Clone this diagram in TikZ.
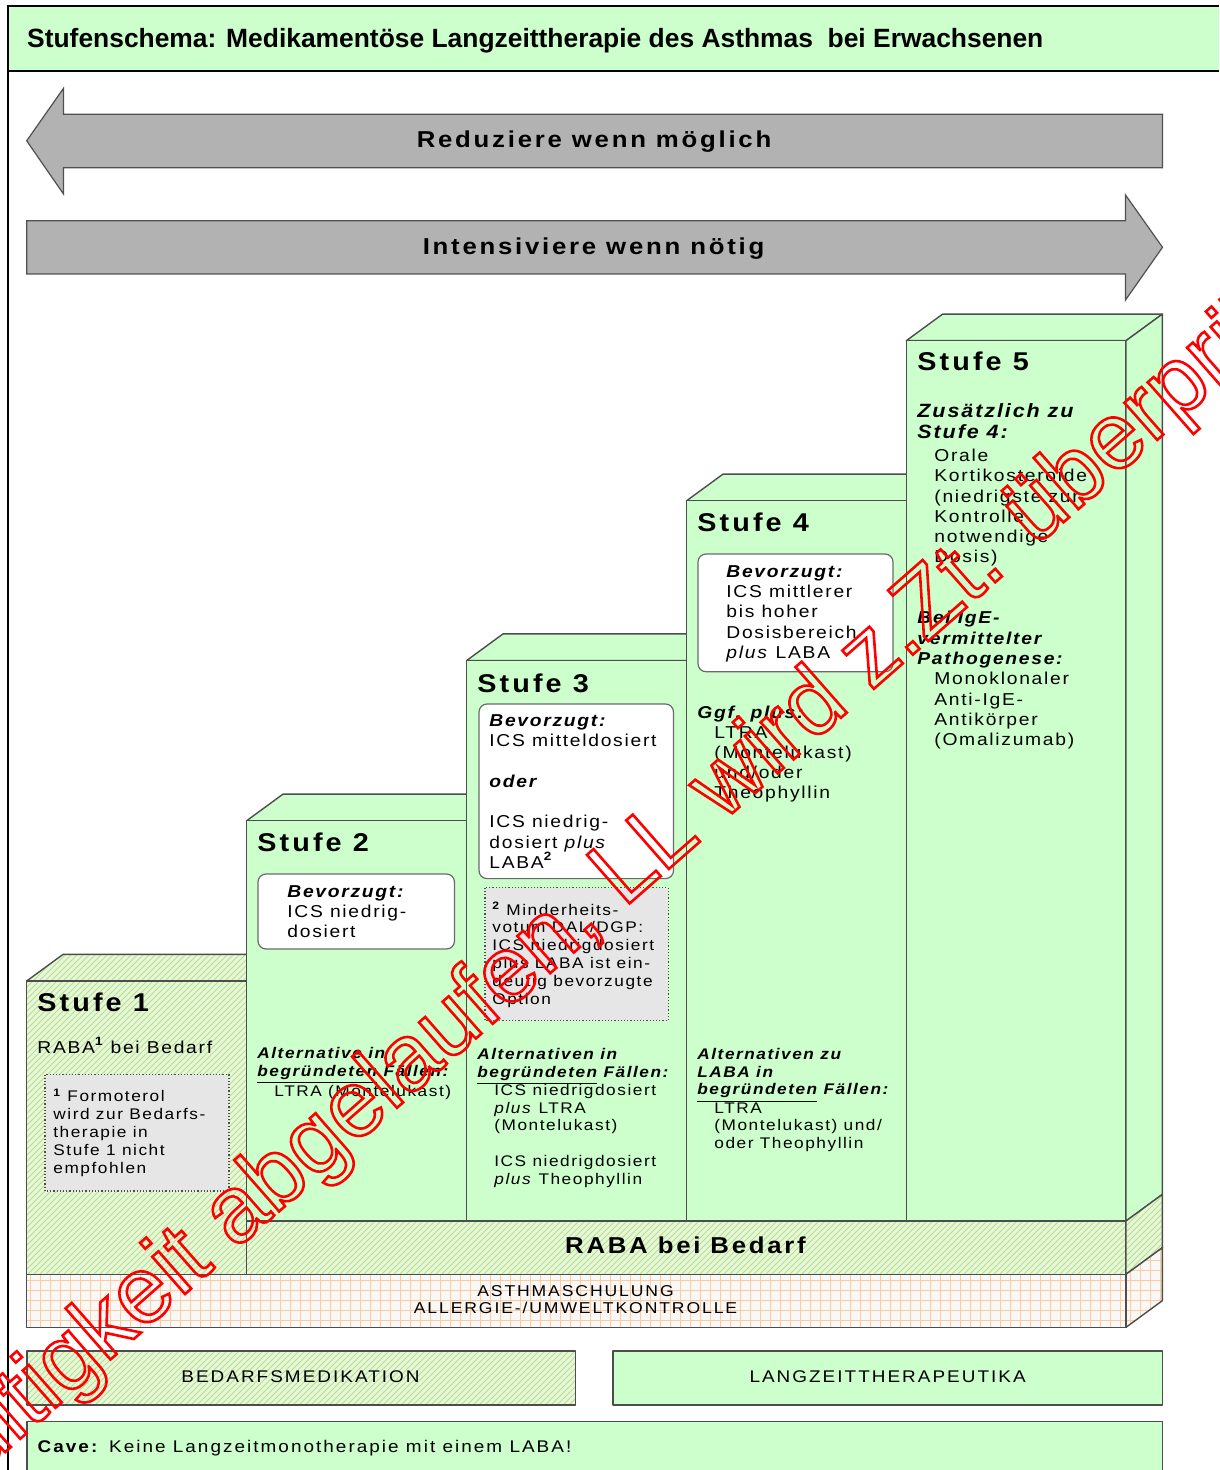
\documentclass[tikz,border=0pt]{standalone}
\usepackage{fontspec}
\setmainfont{Liberation Sans}
\newfontfamily\fsp{Liberation Sans}[FakeStretch=1.12, LetterSpace=10]
\newfontfamily\fhd{Liberation Sans}[FakeStretch=1.12, LetterSpace=12]
\usetikzlibrary{patterns}
\definecolor{lgreen}{HTML}{CCFFCC}
\definecolor{edge}{HTML}{4D4D4D}
\definecolor{boxedge}{HTML}{6A6A6A}
\definecolor{arrowgray}{HTML}{B2B2B2}
\definecolor{arrowedge}{HTML}{505050}
\definecolor{notegray}{HTML}{E6E6E6}
\definecolor{hatchbg}{HTML}{E6F8D6}
\definecolor{hatchfg}{HTML}{B9DD96}
\definecolor{gridorange}{HTML}{FFCC99}
\definecolor{gridbg}{HTML}{F8F8F8}
\definecolor{wmred}{HTML}{FF0000}
\newcommand\fBody{\fsp\fontsize{8.6}{10.15}\selectfont}
\newcommand\fSmall{\fsp\fontsize{7.7}{8.9}\selectfont}
\newcommand\fStufe{\fhd\bfseries\fontsize{12.85}{15}\selectfont}
\newcommand\fArrow{\fhd\bfseries\fontsize{11.5}{14}\selectfont}
\newcommand\fTitle{\bfseries\fontsize{13.2}{15}\selectfont}
\newcommand\fLegend{\fhd\fontsize{8.45}{10}\selectfont}
\newcommand\fBase{\fhd\fontsize{7.85}{8.75}\selectfont}
\newcommand\fZus{\fsp\bfseries\itshape\fontsize{9.6}{10.8}\selectfont}
\newcommand\bi[1]{{\bfseries\itshape #1}}
\newcommand\wmon{\special{pdf:literal direct 1 Tr 1.3 w}}
\newcommand\wmoff{\special{pdf:literal direct 0 Tr}}
\begin{document}
\begin{tikzpicture}[x=0.5pt,y=-0.5pt,
  txt/.style={inner sep=0pt, anchor=north west, align=left},
  one/.style={inner sep=0pt, anchor=base west},
  ctr/.style={inner sep=0pt, anchor=base},
  face/.style={draw=edge, line width=0.7pt, fill=lgreen, line join=round},
  hatchface/.style={draw=edge, line width=0.7pt, line join=round, preaction={fill=hatchbg}, pattern=north east lines, pattern color=hatchfg},
  prefbox/.style={draw=boxedge, fill=white, rounded corners=4pt, line width=0.6pt},
  notebox/.style={draw=edge, densely dotted, fill=notegray, line width=0.6pt},
  bigarrow/.style={draw=arrowedge, fill=arrowgray, line width=0.6pt, line join=miter},
  gridline/.style={draw=gridorange, line width=0.45pt},
]
\useasboundingbox (0,0) rectangle (1219,1470);
% frame and title band
\fill[lgreen] (7.5,6.5) rectangle (1219,70.7);
\draw[line width=1pt] (7.5,1470) -- (7.5,6.5) -- (1219,6.5);
\draw[line width=1pt] (7.5,70.7) -- (1219,70.7);
\node[one, font=\fTitle] (title) at (26.8,47.3) {Stufenschema: Medikamentöse Langzeittherapie des Asthmas\ \ bei Erwachsenen};
% arrows
\draw[bigarrow] (1162.5,114.3) -- (63.5,114.3) -- (63.5,88.3) -- (26.7,140.8) -- (63.5,194) -- (63.5,167.7) -- (1162.5,167.7) -- cycle;
\draw[bigarrow] (26.7,220.7) -- (1125.5,220.7) -- (1125.5,195) -- (1162.5,247.3) -- (1125.5,300) -- (1125.5,274) -- (26.7,274) -- cycle;
\node[ctr, font=\fArrow] (reduce) at (594,147.3) {Reduziere wenn möglich};
\node[ctr, font=\fArrow] (intens) at (593.5,255) {Intensiviere wenn nötig};
% steps
\draw[hatchface] (26.7,981) -- (63,954.4) -- (283,954.4) -- (246.7,981) -- cycle;
\draw[hatchface] (26.7,981) rectangle (246.7,1274.3);
\draw[face] (246.7,820.7) -- (283,794.1) -- (503,794.1) -- (466.7,820.7) -- cycle;
\draw[face] (246.7,820.7) rectangle (466.7,1221);
\draw[face] (466.7,660.5) -- (503,633.9) -- (723,633.9) -- (686.7,660.5) -- cycle;
\draw[face] (466.7,660.5) rectangle (686.7,1221);
\draw[face] (686.7,500.7) -- (723,474.1) -- (942.6,474.1) -- (906.3,500.7) -- cycle;
\draw[face] (686.7,500.7) rectangle (906.3,1221);
\draw[face] (906.3,340.7) -- (942.6,314.1) -- (1162.3,314.1) -- (1126,340.7) -- cycle;
\draw[face] (906.3,340.7) rectangle (1126,1221);
\draw[face] (1126,340.7) -- (1162.3,314.1) -- (1162.3,1194.4) -- (1126,1221) -- cycle;
% RABA band
\draw[hatchface] (246.7,1221) rectangle (1126,1274.3);
\draw[hatchface] (1126,1221) -- (1162.3,1194.4) -- (1162.3,1247.7) -- (1126,1274.3) -- cycle;
% base with grid
\begin{scope}
\clip (26.7,1274.3) rectangle (1126,1327.3);
\fill[gridbg] (26.7,1274.3) rectangle (1126,1327.3);
\draw[gridline, step=5pt] (0,1340) grid (1170,1260);
\end{scope}
\begin{scope}
\clip (1126,1274.3) -- (1162.3,1247.7) -- (1162.3,1300.7) -- (1126,1327.3) -- cycle;
\fill[gridbg] (1120,1240) rectangle (1170,1330);
\draw[gridline, step=5pt] (1100,1340) grid (1170,1240);
\end{scope}
\draw[edge, line width=0.7pt] (26.7,1274.3) rectangle (1126,1327.3);
\draw[edge, line width=0.7pt] (1126,1274.3) -- (1162.3,1247.7) -- (1162.3,1300.7) -- (1126,1327.3);
\node[ctr, anchor=north, align=center, font=\fBase] (base) at (575.5,1283.8) {\strut ASTHMASCHULUNG\\ALLERGIE-/UMWELTKONTROLLE};
\node[ctr, font=\fArrow] (raba) at (685.5,1253.3) {RABA bei Bedarf};
% boxes
\draw[prefbox] (258,874) rectangle (454.5,949);
\draw[prefbox] (479,704) rectangle (673.5,878.6);
\draw[prefbox] (698,554) rectangle (893,671.7);
\draw[notebox] (45,1074.5) rectangle (229,1191);
\draw[notebox] (485,887.7) rectangle (668.3,1020.7);
% Stufe 1
\node[one, font=\fStufe] (s1h) at (37,1011.5) {Stufe 1};
\node[one, font=\fBody] (s1t) at (37,1053) {RABA\textsuperscript{\bfseries 1} bei Bedarf};
\node[txt, font=\fSmall] (s1n) at (53,1088.5) {\strut\textsuperscript{\bfseries 1} Formoterol\\wird zur Bedarfs-\\therapie in\\Stufe 1 nicht\\empfohlen};
% Stufe 2
\node[one, font=\fStufe] (s2h) at (257,851.7) {Stufe 2};
\node[txt, font=\fBody] (s2p) at (287,882.5) {\strut\bi{Bevorzugt:}\\ICS niedrig-\\dosiert};
\node[txt, font=\fSmall] (s2a) at (257,1046) {\strut\bi{Alternative in}\\\bi{\underline{begründeten} Fällen:}};
\node[one, font=\fSmall] (s2b) at (274,1096.5) {LTRA (Montelukast)};
% Stufe 3
\node[one, font=\fStufe] (s3h) at (477,692) {Stufe 3};
\node[txt, font=\fBody] (s3p) at (489,711.6) {\strut\bi{Bevorzugt:}\\ICS mitteldosiert\\\strut\\\bi{oder}\\\strut\\ICS niedrig-\\dosiert \textit{plus}\\LABA\textsuperscript{\bfseries 2}};
\node[txt, font=\fSmall] (s3n) at (492,901.5) {\strut\textsuperscript{\bfseries 2} Minderheits-\\votum DAL/DGP:\\ICS niedrigdosiert\\plus LABA ist ein-\\deutig bevorzugte\\Option};
\node[txt, font=\fSmall] (s3a) at (477,1046.5) {\strut\bi{Alternativen in}\\\bi{\underline{begründeten} Fällen:}};
\node[txt, font=\fSmall] (s3b) at (494,1082.5) {\strut ICS niedrigdosiert\\\textit{plus} LTRA\\(Montelukast)\\\strut\\ICS niedrigdosiert\\\textit{plus} Theophyllin};
% Stufe 4
\node[one, font=\fStufe] (s4h) at (697,531.7) {Stufe 4};
\node[txt, font=\fBody] (s4p) at (726,562.5) {\strut\bi{Bevorzugt:}\\ICS mittlerer\\bis hoher\\Dosisbereich\\\textit{plus} LABA};
\node[one, font=\fBody] (s4g) at (697,718.3) {\bi{Ggf. plus:}};
\node[txt, font=\fBody] (s4i) at (714,723.4) {\strut LTRA\\(Montelukast)\\und/oder\\Theophyllin};
\node[txt, font=\fSmall] (s4a) at (697,1046.5) {\strut\bi{Alternativen zu}\\\bi{LABA in}\\\bi{\underline{begründeten} Fällen:}};
\node[txt, font=\fSmall] (s4b) at (714,1100.2) {\strut LTRA\\(Montelukast) und/\\oder Theophyllin};
% Stufe 5
\node[one, font=\fStufe] (s5h) at (917,371) {Stufe 5};
\node[txt, font=\fZus] (s5z) at (917,401.6) {\strut Zusätzlich zu\\Stufe 4:};
\node[txt, font=\fBody] (s5o) at (934,446.8) {\strut Orale\\Kortikosteroide\\(niedrigste zur\\Kontrolle\\notwendige\\Dosis)};
\node[txt, font=\fBody] (s5b) at (917,609.1) {\strut\bi{Bei IgE-}\\\bi{vermittelter}\\\bi{Pathogenese:}};
\node[txt, font=\fBody] (s5m) at (934,670.1) {\strut Monoklonaler\\Anti-IgE-\\Antikörper\\(Omalizumab)};
% legend
\draw[hatchface] (27,1351) rectangle (575.4,1405);
\draw[face] (612.8,1351) rectangle (1162.5,1405);
\draw[face] (27,1421.7) rectangle (1162.5,1485);
\node[ctr, font=\fLegend] (leg1) at (300.5,1382.7) {BEDARFSMEDIKATION};
\node[ctr, font=\fLegend] (leg2) at (887.6,1382.7) {LANGZEITTHERAPEUTIKA};
\node[one, font=\fLegend] (cave) at (37.3,1452.7) {\textbf{Cave:} Keine Langzeitmonotherapie mit einem LABA!};
% watermark
\node[inner sep=0pt, anchor=base west, rotate=41.3, text=wmred, font=\fontsize{47}{55}\selectfont] (wm) at (-79,1526) {\wmon Gültigkeit abgelaufen, LL wird z.Zt. überprüft\wmoff};
\end{tikzpicture}
\end{document}
